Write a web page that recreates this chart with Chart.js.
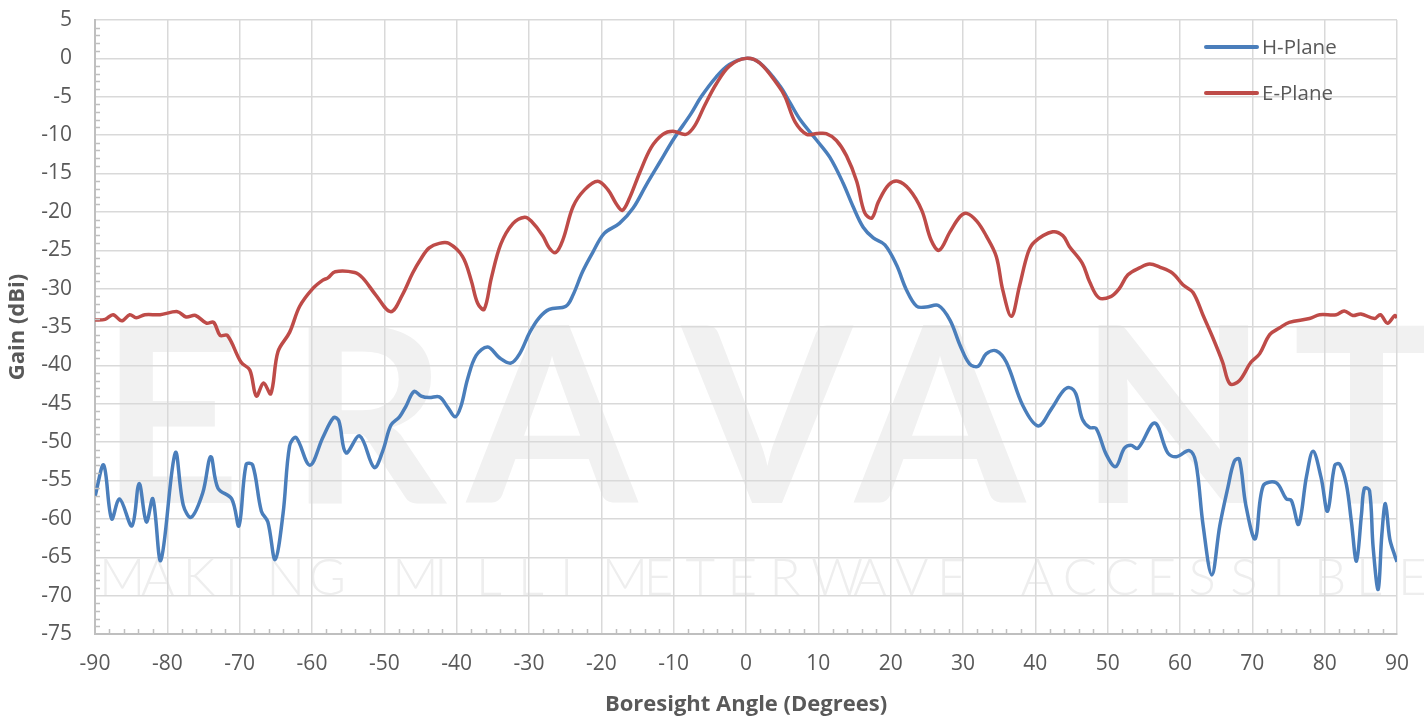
<!DOCTYPE html>
<html>
<head>
<meta charset="utf-8">
<script src="https://cdn.jsdelivr.net/npm/chart.js@4.4.1/dist/chart.umd.min.js"></script>
<style>
  html, body { margin: 0; padding: 0; background: #fff; }
  canvas { display: block; }
</style>
</head>
<body>
<canvas id="pattern" width="1424" height="719"></canvas>
<script>
// H-Plane trace (angle in degrees, gain in dBi)
const hAngle = [-90, -88.8, -87.7, -86.6, -84.9, -83.9, -82.9, -82.0, -80.9, -78.9, -77.8, -76.7, -75.1, -74.0,
  -73.0, -71.1, -70.1, -69.1, -68.2, -67.0, -66.1, -65.1, -64.0, -63.1, -62.2, -60.3, -58.5, -57.0, -56.3,
  -55.3, -53.4, -51.4, -50.2, -49.1, -47.9, -47.0, -45.9, -44.9, -43.8, -42.4, -41.2, -40.2, -39.4, -38.5,
  -37.3, -35.7, -34.1, -32.5, -31.3, -29.9, -28.6, -27.2, -24.9, -23.9, -22.6, -21.2, -19.6, -17.5, -15.6,
  -13.8, -11.9, -10.0, -7.6, -6.2, -4.1, -2.3, 0, 1.9, 4.7, 6.1, 7.5, 9.8, 11.6, 13.4, 14.8, 16.2, 17.6,
  19.2, 20.8, 22.2, 23.6, 24.9, 26.6, 28.2, 29.6, 30.9, 32.1, 33.2, 34.6, 36.0, 38.3, 40.4, 42.2, 43.8,
  44.7, 45.6, 46.5, 47.5, 48.4, 49.8, 51.1, 52.3, 53.2, 54.2, 56.5, 58.3, 59.5, 61.3, 62.2, 63.2, 64.4,
  65.5, 66.6, 67.5, 68.2, 69.1, 70.4, 71.5, 73.3, 74.7, 75.4, 76.4, 77.5, 78.4, 79.5, 80.4, 81.4, 82.1,
  83.0, 83.7, 84.4, 85.1, 85.5, 86.2, 86.7, 87.4, 87.9, 88.4, 89.0, 89.7, 90];
const hGain = [-57.1, -53.0, -60.0, -57.4, -60.9, -55.4, -60.4, -57.4, -65.4, -51.4, -58.2, -59.8, -56.6, -51.9,
  -56.0, -57.4, -60.9, -52.9, -53.0, -59.0, -60.4, -65.3, -59.3, -50.5, -49.4, -53.0, -49.4, -46.8, -47.2,
  -51.4, -49.2, -53.3, -51.1, -47.8, -46.7, -45.3, -43.4, -44.0, -44.2, -44.1, -45.5, -46.7, -45.3, -41.8,
  -38.7, -37.6, -39.0, -39.7, -38.5, -35.7, -33.8, -32.7, -32.3, -30.8, -27.8, -25.3, -22.8, -21.5, -19.5,
  -16.5, -13.5, -10.5, -7.2, -5.0, -2.4, -0.8, 0, -0.6, -3.6, -5.8, -8.0, -10.7, -12.9, -16.2, -19.3,
  -22.0, -23.4, -24.3, -26.9, -30.2, -32.3, -32.4, -32.2, -34.1, -37.4, -39.8, -40.1, -38.5, -38.1,
  -39.6, -45.3, -47.9, -45.7, -43.4, -42.9, -43.7, -47.0, -48.1, -48.2, -51.6, -53.2, -50.8, -50.4,
  -50.8, -47.5, -51.4, -51.9, -51.1, -52.7, -60.9, -67.3, -60.9, -56.0, -52.5, -52.2, -58.2, -62.6,
  -55.7, -55.3, -57.4, -57.6, -60.7, -54.4, -51.2, -54.6, -59.0, -53.0, -52.9, -55.5, -60.4, -65.5,
  -59.3, -56.0, -56.3, -63.7, -69.2, -62.1, -58.0, -62.6, -64.8, -65.6];

// E-Plane trace
const eAngle = [-90, -88.6, -87.5, -86.3, -85.2, -84.3, -83.1, -81.0, -78.6, -77.4, -76.1, -74.6, -73.6, -72.7,
  -71.7, -69.8, -68.6, -67.7, -66.7, -65.7, -64.7, -63.1, -61.7, -59.9, -58.5, -57.8, -56.8, -54.1, -53.0,
  -51.2, -49.1, -47.5, -46.1, -45.0, -43.8, -42.4, -41.1, -39.2, -38.0, -37.1, -36.2, -35.2, -33.9, -32.2,
  -30.6, -29.7, -28.1, -27.2, -26.3, -25.3, -23.9, -22.3, -20.5, -19.1, -17.9, -17.1, -16.1, -14.7, -13.1,
  -11.5, -10.1, -8.3, -7.1, -5.7, -4.1, -2.3, 0, 1.9, 4.5, 5.4, 6.8, 8.4, 9.8, 11.1, 12.5, 13.9, 15.3,
  16.4, 17.4, 18.3, 19.7, 21.0, 22.6, 24.3, 25.6, 26.7, 28.2, 29.6, 30.5, 31.9, 33.2, 34.6, 35.5, 36.7,
  37.8, 39.0, 39.9, 42.4, 43.8, 44.7, 46.5, 47.5, 48.8, 50.5, 51.6, 52.8, 54.4, 55.8, 57.2, 59.0, 60.4,
  61.8, 63.2, 64.5, 65.9, 66.9, 68.2, 69.8, 71.0, 72.4, 73.8, 75.1, 77.9, 79.3, 81.6, 82.7, 83.9, 85.0,
  86.9, 87.7, 88.7, 89.7, 90];
const eGain = [-34.1, -34.0, -33.4, -34.2, -33.4, -33.8, -33.4, -33.4, -33.0, -33.7, -33.5, -34.5, -34.4, -36.1,
  -36.1, -39.6, -40.6, -44.0, -42.3, -43.7, -38.2, -35.7, -32.3, -30.0, -28.9, -28.6, -27.8, -27.9, -28.6,
  -30.8, -33.0, -30.8, -28.0, -26.2, -24.7, -24.1, -24.1, -25.8, -28.9, -31.9, -32.7, -28.6, -24.2, -21.5,
  -20.7, -21.2, -23.1, -24.7, -25.3, -23.6, -19.3, -17.1, -16.0, -17.1, -19.0, -19.8, -18.2, -14.9, -11.6,
  -9.9, -9.5, -9.9, -8.8, -6.1, -3.3, -1.0, 0, -0.6, -3.6, -5.0, -8.3, -9.9, -9.8, -9.8, -10.7, -12.7,
  -16.0, -20.1, -20.8, -18.7, -16.5, -16.0, -17.1, -19.8, -23.7, -25.0, -22.6, -20.6, -20.2, -21.2,
  -23.1, -25.8, -30.2, -33.6, -29.7, -25.3, -23.9, -22.6, -23.1, -24.5, -26.7, -29.1, -31.2, -31.0,
  -30.0, -28.2, -27.3, -26.8, -27.2, -28.0, -29.5, -30.5, -33.5, -36.3, -39.6, -42.4, -42.0, -39.6,
  -38.5, -36.0, -35.1, -34.4, -33.9, -33.4, -33.4, -32.9, -33.5, -33.3, -33.9, -33.4, -34.5, -33.5, -33.8];

const xMin = -90, xMax = 90, xStep = 10;
const yMin = -75, yMax = 5, yStep = 5;

const textColor = '#595959';
const gridColor = '#d9d9d9';
const axisColor = '#bfbfbf';
const tickFont = { family: '"Open Sans", sans-serif', size: 21 };
const titleFont = { family: '"Open Sans", sans-serif', size: 22, weight: 'bold' };

const toPoints = (xs, ys) => xs.map((x, i) => ({ x, y: ys[i] }));

// faint company watermark behind the grid
const watermark = {
  id: 'watermark',
  beforeDraw(chart) {
    const c = chart.ctx;
    c.save();
    c.fillStyle = '#f1f1f1';
    c.font = 'bold 245px Lato, "DejaVu Sans", sans-serif';
    c.textBaseline = 'alphabetic';
    const big = 'ERAVANT';
    const bigX = [100, 289, 467, 682, 855, 1079, 1293];
    for (let i = 0; i < big.length; i++) c.fillText(big[i], bigX[i], 503);
    c.fillStyle = '#eeeeee';
    c.font = '300 51px Lato, "DejaVu Sans", sans-serif';
    const small = 'MAKING MILLIMETERWAVE ACCESSIBLE';
    for (let i = 0; i < small.length; i++) c.fillText(small[i], 99 + i * 41.9, 595);
    c.restore();
  }
};

// minor tick marks on the inside of both axes
const minorTicks = {
  id: 'minorTicks',
  afterDraw(chart) {
    const { ctx: c, chartArea: a, scales: { x, y } } = chart;
    c.save();
    c.strokeStyle = axisColor;
    c.lineWidth = 1.5;
    c.beginPath();
    for (let v = xMin + 2; v < xMax; v += 2) {
      if (v % xStep === 0) continue;
      const px = Math.round(x.getPixelForValue(v)) + 0.5;
      c.moveTo(px, a.bottom);
      c.lineTo(px, a.bottom - 5);
    }
    for (let v = yMin + 1; v < yMax; v += 1) {
      if (v % yStep === 0) continue;
      const py = Math.round(y.getPixelForValue(v)) + 0.5;
      c.moveTo(a.left, py);
      c.lineTo(a.left + 5, py);
    }
    c.stroke();
    c.restore();
  }
};

// legend inside the plot, top right
const insideLegend = {
  id: 'insideLegend',
  afterDraw(chart) {
    const c = chart.ctx;
    c.save();
    c.font = '20.5px "Open Sans", sans-serif';
    c.textBaseline = 'middle';
    chart.data.datasets.forEach((ds, i) => {
      const ly = 47 + i * 46;
      c.strokeStyle = ds.borderColor;
      c.lineWidth = 4;
      c.lineCap = 'round';
      c.beginPath();
      c.moveTo(1206, ly);
      c.lineTo(1257, ly);
      c.stroke();
      c.fillStyle = textColor;
      c.fillText(ds.label, 1262, ly + 1);
    });
    c.restore();
  }
};

new Chart(document.getElementById('pattern'), {
  type: 'scatter',
  data: {
    datasets: [
      {
        label: 'H-Plane',
        data: toPoints(hAngle, hGain),
        borderColor: '#4a7ebb',
        backgroundColor: '#4a7ebb',
        showLine: true,
        pointRadius: 0,
        borderWidth: 3.5,
        tension: 0.35,
        order: 1
      },
      {
        label: 'E-Plane',
        data: toPoints(eAngle, eGain),
        borderColor: '#be4b48',
        backgroundColor: '#be4b48',
        showLine: true,
        pointRadius: 0,
        borderWidth: 3.5,
        tension: 0.35,
        order: 0
      }
    ]
  },
  options: {
    responsive: false,
    animation: false,
    events: [],
    layout: { padding: { top: 20, right: 27, left: 0, bottom: 0 } },
    plugins: { legend: { display: false }, tooltip: { enabled: false } },
    scales: {
      x: {
        type: 'linear',
        min: xMin,
        max: xMax,
        ticks: { stepSize: xStep, color: textColor, font: tickFont, padding: 5, maxRotation: 0 },
        grid: { color: gridColor, lineWidth: 1.5, drawTicks: true, tickLength: 12, tickColor: 'rgba(0,0,0,0)' },
        border: { color: axisColor, width: 2 },
        title: {
          display: true,
          text: 'Boresight Angle (Degrees)',
          color: textColor,
          font: titleFont,
          padding: { top: 4, bottom: 1 }
        },
        afterFit: s => { s.height = 85; }
      },
      y: {
        min: yMin,
        max: yMax,
        ticks: { stepSize: yStep, color: textColor, font: tickFont, padding: 7 },
        grid: { color: gridColor, lineWidth: 1.5, drawTicks: true, tickLength: 16, tickColor: 'rgba(0,0,0,0)' },
        border: { color: axisColor, width: 2 },
        title: {
          display: true,
          text: 'Gain (dBi)',
          color: textColor,
          font: titleFont,
          padding: { top: 5, bottom: 4 }
        },
        afterFit: s => { s.width = 95; }
      }
    }
  },
  plugins: [watermark, minorTicks, insideLegend]
});
</script>
</body>
</html>
